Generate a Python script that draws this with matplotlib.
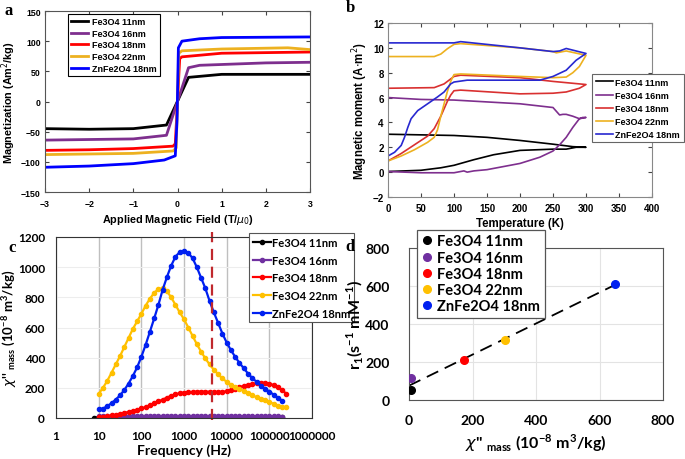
import matplotlib
matplotlib.use("Agg")
import matplotlib.pyplot as plt
from matplotlib.font_manager import FontProperties
import numpy as np

labels = ["Fe3O4 11nm", "Fe3O4 16nm", "Fe3O4 18nm", "Fe3O4 22nm", "ZnFe2O4 18nm"]

# ---- panel a: M(H) loops
field_a = {
    "Fe3O4 11nm": [-3, -2, -1, -0.25, 0.25, 1, 2, 3],
    "Fe3O4 16nm": [-3, -2, -1, -0.25, 0.25, 0.5, 2, 3],
    "Fe3O4 18nm": [-3, -2, -1, -0.1, -0.05, 0.05, 0.1, 1, 3],
    "Fe3O4 22nm": [-3, -2, -1, -0.1, -0.03, 0.03, 0.1, 1, 2.5, 3],
    "ZnFe2O4 18nm": [-3, -2, -1, -0.3, -0.05, -0.01, 0.02, 0.1, 0.5, 1, 3],
}
mag_a = {
    "Fe3O4 11nm": [-45, -46, -45, -39, 40, 45, 45, 45],
    "Fe3O4 16nm": [-64, -63, -62, -56, 56, 60, 64, 65],
    "Fe3O4 18nm": [-81, -80, -78, -74, -70, 71, 74, 80, 82],
    "Fe3O4 22nm": [-88, -87, -86, -82, -77, 80, 84, 87, 89, 86],
    "ZnFe2O4 18nm": [-109, -107, -103, -97, -90, -30, 89, 100, 104, 106, 107],
}

# ---- panel b: ZFC (up to 300 K) then FC (back to 0 K)
temp_b = {
    "Fe3O4 11nm": [0, 50, 80, 100, 130, 160, 200, 250, 270, 285, 300,
                   280, 250, 200, 150, 100, 50, 0],
    "Fe3O4 16nm": [0, 50, 100, 115, 120, 130, 150, 200, 230, 250, 260, 270, 280, 290, 295, 300,
                   290, 280, 270, 265, 260, 255, 250, 200, 100, 50, 0],
    "Fe3O4 18nm": [0, 20, 40, 60, 70, 80, 90, 95, 100, 110, 200, 250, 270, 290, 300,
                   280, 250, 200, 110, 100, 85, 70, 0],
    "Fe3O4 22nm": [0, 20, 40, 60, 70, 75, 80, 85, 90, 95, 100, 110, 200, 250, 270, 280, 290, 300,
                   270, 265, 255, 250, 200, 110, 100, 90, 80, 70, 0],
    "ZnFe2O4 18nm": [0, 10, 20, 25, 30, 35, 45, 60, 75, 85, 95, 100, 120, 230, 250, 270, 285, 300,
                     270, 260, 250, 200, 110, 100, 0],
}
moment_b = {
    "Fe3O4 11nm": [0.05, 0.15, 0.35, 0.55, 1.0, 1.4, 1.75, 1.85, 1.85, 2.0, 2.0,
                   2.05, 2.25, 2.55, 2.8, 2.95, 3.0, 3.05],
    "Fe3O4 16nm": [0.05, -0.05, -0.05, 0.1, 0.0, 0.1, 0.2, 0.7, 1.2, 1.7, 2.2, 2.8, 3.6, 4.3, 4.4, 4.4,
                   4.3, 4.5, 4.65, 4.65, 4.6, 4.9, 5.2, 5.5, 5.8, 5.85, 6.0],
    "Fe3O4 18nm": [0.9, 1.5, 2.2, 2.9, 3.5, 4.5, 5.7, 6.2, 6.55, 6.6, 6.3, 6.35, 6.45, 6.75, 7.05,
                   7.15, 7.3, 7.6, 7.8, 7.7, 7.1, 6.8, 6.75],
    "Fe3O4 22nm": [0.9, 1.3, 1.8, 2.4, 2.8, 3.4, 4.5, 5.5, 6.5, 7.3, 7.85, 7.9, 7.7, 7.6, 7.65, 8.0, 8.5, 9.4,
                   9.75, 9.7, 9.6, 9.7, 10.0, 10.34, 10.28, 9.93, 9.5, 9.3, 9.3],
    "ZnFe2O4 18nm": [1.3, 1.6, 2.15, 2.8, 3.6, 4.3, 4.95, 5.5, 6.05, 6.45, 7.1, 7.25, 7.4, 7.4, 7.7, 8.2, 9.0, 9.55,
                     9.95, 9.75, 9.7, 10.0, 10.5, 10.4, 10.4],
}

# ---- panel c: chi'' vs frequency
freq = [10, 12.6, 15.8, 20, 25.1, 31.6, 39.8, 50.1, 63.1, 79.4,
        100, 126, 158, 200, 251, 316, 398, 501, 631, 794,
        1000, 1259, 1585, 1995, 2512, 3162, 3981, 5012, 6310, 7943,
        10000, 12589, 15849, 19953, 25119, 31623, 39811, 50119, 63096, 79433,
        100000, 125893, 158489, 199526]
freq_long = freq + [251189]
freq_black = [7.94] + freq
chi_11 = [0, 8, 6, 5, 5, 5, 5, 5, 5, 5, 5, 5, 5, 5, 5, 5, 5, 5, 5, 5, 5, 5, 5,
          5, 5, 5, 5, 5, 5, 5, 5, 5, 5, 5, 5, 5, 5, 5, 5, 5, 5, 5, 5, 5, 4]
chi_16 = [10, 11, 12, 12, 12, 12, 12, 12, 12, 12, 12, 12, 13, 13, 13, 13, 13, 13, 13, 13, 13, 13,
          13, 13, 13, 13, 13, 13, 13, 13, 13, 13, 12, 12, 12, 12, 12, 12, 12, 12, 11, 11, 10, 8]
chi_18 = [5, 8, 12, 17, 22, 28, 34, 40, 47, 55, 63, 73, 85, 98, 110, 122, 135, 147, 157, 165,
          168, 172, 173, 175, 175, 175, 174, 173, 173, 174, 177, 185, 195, 205, 213, 220, 226,
          230, 233, 234, 228, 218, 205, 185, 160]
chi_22 = [160, 200, 245, 300, 355, 410, 470, 530, 590, 640, 690, 745, 790, 830, 855, 860, 840,
          800, 750, 700, 655, 600, 545, 490, 440, 395, 355, 320, 290, 262, 240, 220, 205, 192,
          180, 165, 150, 138, 127, 117, 105, 95, 80, 70, 75]
chi_zn = [60, 62, 78, 98, 122, 150, 185, 228, 278, 335, 405, 485, 570, 660, 750, 850, 935,
          1010, 1070, 1100, 1110, 1095, 1060, 1000, 930, 860, 775, 700, 630, 560, 500, 450,
          405, 365, 330, 295, 265, 240, 215, 195, 175, 155, 135, 115]
f_mark = 4500

# ---- panel d: r1 vs chi''
chi_d = [5, 5, 173, 303, 650]
r1_d = [54, 114, 210, 316, 612]

cols_a = ["#000000", "#7E2F8E", "#FF0000", "#EDB120", "#0000FF"]
cols_b = ["#000000", "#7E2F8E", "#D93030", "#EDB120", "#2828D0"]
cols_cd = ["#000000", "#7030A0", "#FF0000", "#FFC000", "#0020F0"]

W, H = 685, 460
fig = plt.figure(figsize=(6.85, 4.60), dpi=100)


def box(l, t, r, b):
    return [l / W, 1 - b / H, (r - l) / W, (b - t) / H]


matlab = dict(family="Liberation Sans", weight="bold")
xl = dict(family="Lato", weight="bold")


def tick_font(ax, props, size):
    for t in ax.get_xticklabels() + ax.get_yticklabels():
        t.set_fontproperties(FontProperties(**props, size=size))


# a
ax = fig.add_axes(box(45, 12, 310, 193))
for lab, c in zip(labels, cols_a):
    ax.plot(field_a[lab], mag_a[lab], color=c, lw=2, label=lab)
ax.set_xlim(-3, 3)
ax.set_ylim(-150, 150)
ax.set_xticks(range(-3, 4))
ax.set_yticks(range(-150, 151, 50))
ax.tick_params(direction="in", top=True, right=True, length=3, color="#444444")
ax.tick_params(axis="x", pad=5)
ax.tick_params(axis="y", pad=3)
tick_font(ax, matlab, 6.3)
for s in ax.spines.values():
    s.set_color("#555555")
ax.set_xlabel("Applied Magnetic Field (T/$\\mu_0$)", fontsize=7.8, labelpad=3, **matlab)
ax.set_ylabel("Magnetization (Am$^2$/kg)", fontsize=7.8, labelpad=2, **matlab)
leg = ax.legend(loc="upper left", bbox_to_anchor=(0.087, 0.984), prop=dict(**matlab, size=6.5),
                fancybox=False, edgecolor="black", framealpha=1, handlelength=1.9,
                borderpad=0.35, labelspacing=0.3, handletextpad=0.4, borderaxespad=0)
leg.get_frame().set_linewidth(0.8)

# b
ax = fig.add_axes(box(388, 24, 652, 198))
for lab, c in zip(labels, cols_b):
    ax.plot(temp_b[lab], moment_b[lab], color=c, lw=1.2, label=lab)
ax.set_xlim(0, 400)
ax.set_ylim(-2, 12)
ax.set_xticks(range(0, 401, 50))
ax.set_yticks(range(-2, 13, 2))
ax.tick_params(direction="in", top=True, right=True, length=3, color="#444444")
ax.tick_params(axis="x", pad=4)
ax.tick_params(axis="y", pad=3)
tick_font(ax, matlab, 7)
for s in ax.spines.values():
    s.set_color("#888888")
ax.set_xlabel("Temperature (K)", fontsize=8.3, labelpad=3, **matlab)
ax.set_ylabel("Magnetic moment (A$\\cdot$m$^2$)", fontsize=8.3, labelpad=2, **matlab)
leg = ax.legend(loc="upper left", bbox_to_anchor=(204 / 264, 123 / 174), prop=dict(**matlab, size=6.5),
                fancybox=False, edgecolor="#666666", framealpha=1, handlelength=1.9,
                borderpad=0.4, labelspacing=0.45, handletextpad=0.3, borderaxespad=0)
leg.get_frame().set_linewidth(0.8)

# c
ax = fig.add_axes(box(56, 238, 312, 419))
series_c = [(freq_black, chi_11), (freq, chi_16), (freq_long, chi_18),
            (freq_long, chi_22), (freq, chi_zn)]
for (fx, fy), lab, c in zip(series_c, labels, cols_cd):
    ax.plot(fx, fy, color=c, lw=1.6, marker="o", ms=3, label=lab)
ax.axvline(f_mark, ymin=-0.01, ymax=1.03, color="#C0282D", lw=1.6, ls=(0, (5, 3)), clip_on=False)
ax.set_xscale("log")
ax.set_xlim(1, 1e6)
ax.set_ylim(0, 1200)
ax.set_yticks(range(0, 1201, 200))
ax.set_xticks([1, 10, 100, 1000, 10000, 100000, 1000000])
ax.set_xticklabels(["1", "10", "100", "1000", "10000", "100000", "1000000"])
ax.minorticks_off()
ax.grid(axis="x", color="#BFBFBF", lw=1)
ax.grid(axis="y", color="#EDEDED", lw=0.8)
ax.set_axisbelow(True)
ax.tick_params(axis="x", length=0, pad=9)
ax.tick_params(axis="y", length=0, pad=8)
tick_font(ax, xl, 8.5)
for s in ax.spines.values():
    s.set_color("#333333")
ax.set_xlabel("Frequency (Hz)", fontsize=10, labelpad=1, **xl)
ax.set_ylabel("$\\chi$'' $_{\\mathregular{mass}}$ (10$^{\\mathregular{-8}}$ m$^{\\mathregular{3}}$/kg)",
              fontsize=9.5, labelpad=-1, **xl)
leg = ax.legend(loc="upper left", bbox_to_anchor=(0.754, 1.022), prop=dict(**xl, size=8),
                fancybox=False, edgecolor="#555555", framealpha=1, handlelength=1.6,
                borderpad=0.35, labelspacing=0.6, handletextpad=0.1, borderaxespad=0)
leg.get_frame().set_linewidth(0.8)

# d
ax = fig.add_axes(box(409, 249, 663, 401))
for x, y, lab, c in zip(chi_d, r1_d, labels, cols_cd):
    ax.plot(x, y, "o", color=c, ms=5.5, label=lab, zorder=3)
k, b0 = np.polyfit(chi_d, r1_d, 1)
xs = np.array([0, max(chi_d)])
ax.plot(xs, k * xs + b0, color="black", lw=1.3, ls=(0, (7, 4)), zorder=2)
ax.set_xlim(0, 800)
ax.set_ylim(0, 800)
ax.set_xticks(range(0, 801, 200))
ax.set_yticks(range(0, 801, 200))
ax.grid(color="#E3E3E3", lw=0.8)
ax.set_axisbelow(True)
ax.tick_params(axis="x", length=0, pad=10)
ax.tick_params(axis="y", length=0, pad=14)
tick_font(ax, xl, 10)
for s in ax.spines.values():
    s.set_color("#555555")
ax.set_xlabel("$\\chi$'' $_{\\mathregular{mass}}$ (10$^{\\mathregular{-8}}$ m$^{\\mathregular{3}}$/kg)",
              fontsize=11.5, labelpad=4, **xl)
ax.set_ylabel("r$_{\\mathregular{1}}$(s$^{\\mathregular{-1}}$ mM$^{\\mathregular{-1}}$)",
              fontsize=11.5, labelpad=0, **xl)
leg = ax.legend(loc="upper left", bbox_to_anchor=(0.031, 1.118), prop=dict(**xl, size=10.5),
                fancybox=False, edgecolor="#555555", framealpha=1, handlelength=0.8,
                borderpad=0.3, labelspacing=0.15, handletextpad=0.3, borderaxespad=0)
leg.get_frame().set_linewidth(0.9)

# panel letters
for txt, px, py in [("a", 9, 11), ("b", 350, 8), ("c", 12, 248), ("d", 350, 247)]:
    fig.text(px / W, 1 - py / H, txt, family="Liberation Serif", weight="bold", fontsize=12,
             ha="center", va="center")

fig.savefig("out.png", dpi=100)
